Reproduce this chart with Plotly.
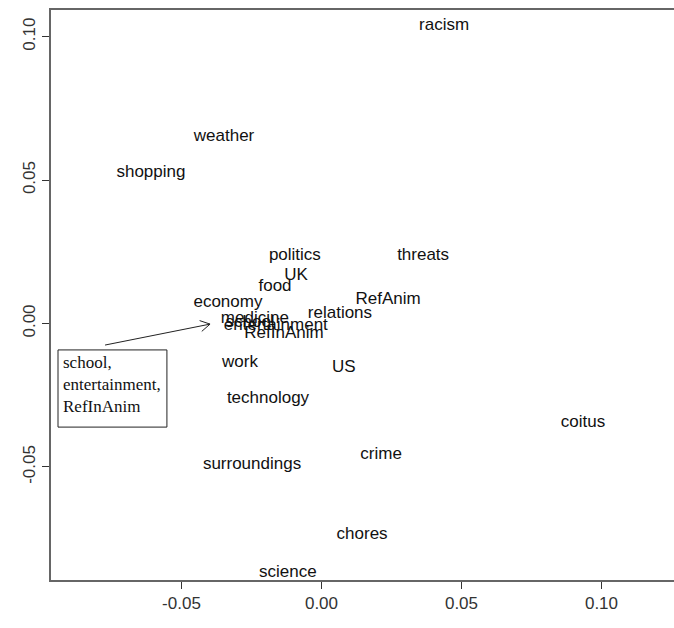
import plotly.graph_objects as go
import math

labels = ["racism", "weather", "shopping", "politics", "UK", "threats", "food",
          "economy", "RefAnim", "relations", "medicine", "school", "entertainment",
          "RefInAnim", "work", "US", "technology", "coitus", "crime",
          "surroundings", "chores", "science"]
xs = [0.0438, -0.0348, -0.0609, -0.0095, -0.0091, 0.0363, -0.0166,
      -0.0334, 0.0238, 0.0066, -0.0238, -0.0255, -0.0163,
      -0.0134, -0.0291, 0.0080, -0.0191, 0.0934, 0.0213,
      -0.0248, 0.0145, -0.0120]
ys = [0.1037, 0.0650, 0.0524, 0.0235, 0.0166, 0.0235, 0.0127,
      0.0071, 0.0082, 0.0033, 0.0016, 0.0002, -0.0009,
      -0.0037, -0.0138, -0.0155, -0.0263, -0.0347, -0.0458,
      -0.0493, -0.0737, -0.0870]

tick_vals = [-0.05, 0.00, 0.05, 0.10]
tick_text = ["-0.05", "0.00", "0.05", "0.10"]

box_text = ["school,", "entertainment,", "RefInAnim"]
arrow_start = (-0.0773, -0.0075)
arrow_end = (-0.0398, -0.0002)
box_corners = (-0.0941, -0.0092, -0.0552, -0.0361)

XR = [-0.0966, 0.1259]
YR = [-0.0894, 0.1093]
W, H = 674, 628
ML, MR, MT, MB = 51, 0, 10, 48
pxx = (W - ML - MR) / (XR[1] - XR[0])
pxy = (H - MT - MB) / (YR[1] - YR[0])

fig = go.Figure()
fig.add_trace(go.Scatter(x=xs, y=ys, text=labels, mode="text",
                         textposition="middle center",
                         textfont=dict(family="Liberation Sans, Arial", size=17, color="#111"),
                         hoverinfo="skip", showlegend=False))

# arrow line
fig.add_shape(type="line", x0=arrow_start[0], y0=arrow_start[1],
              x1=arrow_end[0], y1=arrow_end[1], line=dict(color="#222", width=1))
# open V arrowhead
dxp = (arrow_end[0] - arrow_start[0]) * pxx
dyp = (arrow_end[1] - arrow_start[1]) * pxy
ang = math.atan2(dyp, dxp)
L = 11
for s in (1, -1):
    a = ang + math.pi - s * math.radians(30)
    fig.add_shape(type="line", x0=arrow_end[0], y0=arrow_end[1],
                  x1=arrow_end[0] + L * math.cos(a) / pxx,
                  y1=arrow_end[1] + L * math.sin(a) / pxy,
                  line=dict(color="#222", width=1))

fig.add_shape(type="rect", x0=box_corners[0], y0=box_corners[1],
              x1=box_corners[2], y1=box_corners[3], line=dict(color="#222", width=1))
fig.add_annotation(x=box_corners[0], y=box_corners[1], xanchor="left", yanchor="top",
                   xshift=3, yshift=-1, showarrow=False, align="left",
                   text="<br>".join(box_text),
                   font=dict(family="Liberation Serif, Times New Roman", size=17, color="#111"))

fig.update_xaxes(range=XR, tickvals=tick_vals, ticktext=tick_text, ticks="outside",
                 ticklen=7, tickcolor="#333", showgrid=False, zeroline=False,
                 showline=True, mirror=True, linecolor="#666", linewidth=2,
                 tickfont=dict(family="Liberation Sans, Arial", size=17, color="#333"))
fig.update_yaxes(range=YR, tickvals=tick_vals, ticktext=tick_text, ticks="outside",
                 ticklen=7, tickcolor="#333", showgrid=False, zeroline=False,
                 showline=True, mirror=False, linecolor="#666", linewidth=2,
                 tickangle=-90,
                 tickfont=dict(family="Liberation Sans, Arial", size=17, color="#333"))
fig.update_layout(width=W, height=H, margin=dict(l=ML, r=MR, t=MT, b=MB),
                  plot_bgcolor="white", paper_bgcolor="white")
fig.write_html("out.html", config={"displayModeBar": False},
               post_script="document.body.style.margin='0';document.body.style.overflow='hidden';")
